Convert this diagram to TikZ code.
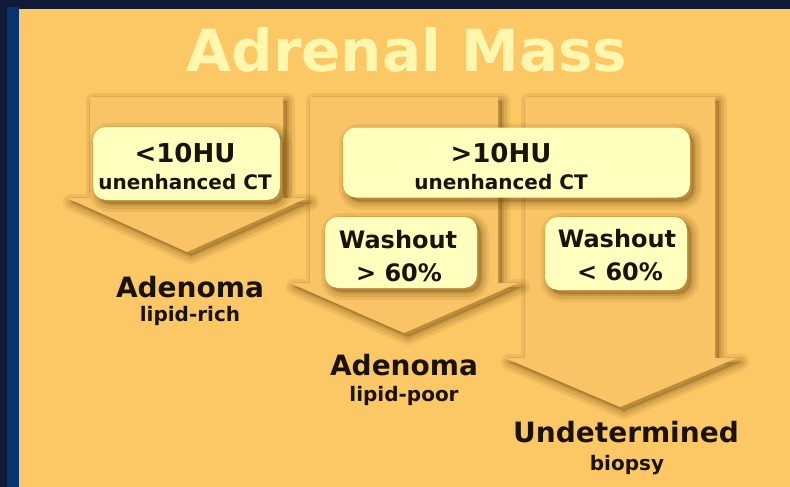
\documentclass[tikz,border=0pt]{standalone}
\usepackage{fontspec}
\setmainfont{DejaVu Sans}
\usetikzlibrary{positioning}
\definecolor{bgnavy}{HTML}{111B38}
\definecolor{stripblue}{HTML}{08336E}
\definecolor{panelorange}{HTML}{FCC866}
\definecolor{arrowfill}{HTML}{F9C465}
\definecolor{shadowbrown}{HTML}{6E470C}
\definecolor{boxyellow}{HTML}{FFFFBE}
\definecolor{titlecream}{HTML}{FFF7AE}
\definecolor{inkdark}{HTML}{1A1206}

\begin{document}
\begin{tikzpicture}[x=1pt, y=-1pt,
  softshadow/.style={
    preaction={draw=shadowbrown, draw opacity=0.10, line width=16pt, line join=round,
               transform canvas={shift={(4pt,-4pt)}}},
    preaction={draw=shadowbrown, draw opacity=0.13, line width=10pt, line join=round,
               transform canvas={shift={(4pt,-4pt)}}},
    preaction={draw=shadowbrown, draw opacity=0.16, line width=4pt, line join=round,
               transform canvas={shift={(4pt,-4pt)}}},
    preaction={fill=shadowbrown, fill opacity=0.3,
               transform canvas={shift={(4pt,-4pt)}}}},
  bigarrow/.style={softshadow, fill=arrowfill},
  cond/.style={softshadow, fill=boxyellow, rounded corners=13pt, inner sep=0pt},
  heading/.style={font=\fontsize{58}{60}\selectfont\bfseries, text=titlecream,
                  anchor=base, inner sep=0pt},
  bigtxt/.style={font=\fontsize{26}{28}\selectfont\bfseries, text=inkdark,
                 anchor=base, inner sep=0pt},
  midtxt/.style={font=\fontsize{24}{26}\selectfont\bfseries, text=inkdark,
                 anchor=base, inner sep=0pt},
  resulttxt/.style={font=\fontsize{28}{30}\selectfont\bfseries, text=inkdark,
                    anchor=base, inner sep=0pt},
  subtxt/.style={font=\fontsize{20}{22}\selectfont\bfseries, text=inkdark,
                 anchor=base, inner sep=0pt},
]
\useasboundingbox (0,0) rectangle (790,487);
% slide background and orange panel
\fill[bgnavy] (0,0) rectangle (790,487);
\fill[stripblue] (7,7) rectangle (19,487);
\fill[panelorange] (19,9) rectangle (790,487);

% three broad down arrows (right one first)
\foreach \xa/\xb/\ya/\yb/\xc/\xd/\xe/\ye in
  {525/715/97/358/505/737/620/407, 310/498/97/283/290/518/404/333,
   90/283/97/198/67/307/187/252}
  \path[bigarrow] (\xa,\ya) -- (\xb,\ya) -- (\xb,\yb) -- (\xd,\yb)
    -- (\xe,\ye) -- (\xc,\yb) -- (\xa,\yb) -- cycle;

% condition boxes
\node[cond, minimum width=187pt, minimum height=73pt] (lowbox)  at (186.5,163.5) {};
\node[cond, minimum width=347pt, minimum height=70pt] (highbox) at (516.5,162.5) {};
\node[cond, minimum width=152pt, minimum height=71pt] (washhi)  at (401,252.5) {};
\node[cond, minimum width=142pt, minimum height=73pt] (washlo)  at (616,253.5) {};

% title
\node[heading] (title) at (407,72) {Adrenal Mass};

% box texts
\node[bigtxt] (lowhu)  at (185,162) {<10HU};
\node[subtxt] (lowct)  at (185,189) {unenhanced CT};
\node[bigtxt] (highhu) at (501,162) {>10HU};
\node[subtxt] (highct) at (501,189) {unenhanced CT};
\node[midtxt] (washhitop) at (398,248) {Washout};
\node[midtxt] (washhibot) at (399,281) {> 60\%};
\node[midtxt] (washlotop) at (617,247) {Washout};
\node[midtxt] (washlobot) at (620,280) {< 60\%};

% outcomes
\node[resulttxt] (adrich) at (190,297) {Adenoma};
\node[subtxt]    (rich)   at (190,321) {lipid-rich};
\node[resulttxt] (adpoor) at (404,375) {Adenoma};
\node[subtxt]    (poor)   at (404,401) {lipid-poor};
\node[resulttxt] (undet)  at (626,442) {Undetermined};
\node[subtxt]    (biopsy) at (627,470) {biopsy};
\end{tikzpicture}
\end{document}
